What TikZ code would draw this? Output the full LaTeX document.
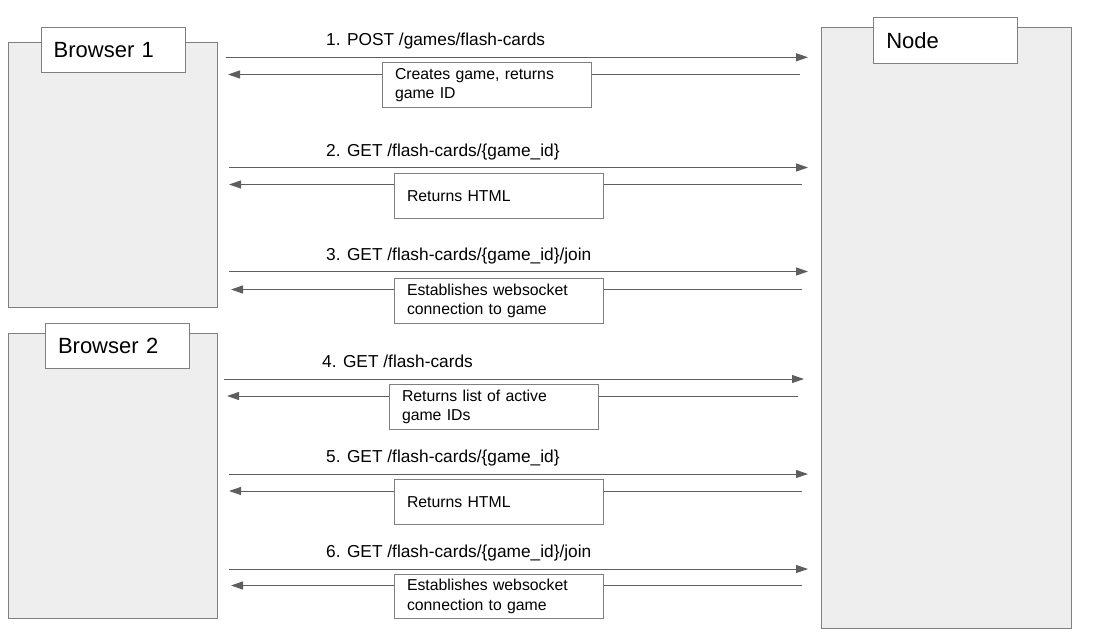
\documentclass[tikz,border=0pt]{standalone}
\usepackage{fontspec}
\setmainfont{Liberation Sans}
\usetikzlibrary{arrows.meta}
\definecolor{boxfill}{HTML}{EEEEEE}
\definecolor{edgec}{HTML}{7F7F7F}
\definecolor{arrowc}{HTML}{5E5E5E}
\tikzset{
  lane/.style={draw=edgec, fill=boxfill, line width=1pt, anchor=north west, inner sep=0pt},
  title/.style={draw=edgec, fill=white, line width=1pt, anchor=north west, minimum width=144pt, minimum height=45.5pt, text width=119pt, inner xsep=12.5pt, inner ysep=0pt, align=left, font=\fontsize{22}{26}\selectfont},
  msg/.style={draw=arrowc, line width=1pt, -{Triangle[length=12pt,width=8pt]}},
  lbl/.style={anchor=base west, inner sep=0pt, font=\fontsize{17.3}{20}\selectfont},
  note/.style={draw=edgec, fill=white, line width=1pt, anchor=north west, minimum width=209pt, minimum height=45pt, text width=184pt, inner xsep=12.5pt, inner ysep=0pt, align=left, font=\fontsize{15.8}{19.5}\selectfont},
}
\begin{document}
\begin{tikzpicture}[x=1pt,y=-1pt]
\useasboundingbox (0,0) rectangle (1105,634);
% lanes
\node[lane, minimum width=208.4pt, minimum height=265pt] (b1) at (8.3,42.3) {};
\node[lane, minimum width=208.4pt, minimum height=285.3pt] (b2) at (8.3,332.7) {};
\node[lane, minimum width=250pt, minimum height=601.3pt] (nd) at (820.7,26.7) {};
\node[title] (t1) at (40.7,26.7) {Browser 1};
\node[title] (t2) at (45,322.7) {Browser 2};
\node[title] (t3) at (873.3,17.3) {Node};
% row 1
\coordinate (f1s) at (226,57.3); \coordinate (f1e) at (808,57.3);
\coordinate (k1s) at (800,74.5); \coordinate (k1e) at (228,74.5);
\draw[msg] (f1s) -- (f1e);
\draw[msg] (k1s) -- (k1e);
\node[lbl] (l1) at (326,45.7) {1. POST /games/flash-cards};
\node[note, minimum width=208pt] (n1) at (382,62) {Creates game, returns\\game ID};
% row 2
\coordinate (f2s) at (229,167.5); \coordinate (f2e) at (808,167.5);
\coordinate (k2s) at (802,184.5); \coordinate (k2e) at (229,184.5);
\draw[msg] (f2s) -- (f2e);
\draw[msg] (k2s) -- (k2e);
\node[lbl] (l2) at (326,156) {2. GET /flash-cards/\{game\_id\}};
\node[note, minimum height=45.5pt] (n2) at (394,172.5) {Returns HTML};
% row 3
\coordinate (f3s) at (229,271.5); \coordinate (f3e) at (808,271.5);
\coordinate (k3s) at (802,289.5); \coordinate (k3e) at (231,289.5);
\draw[msg] (f3s) -- (f3e);
\draw[msg] (k3s) -- (k3e);
\node[lbl] (l3) at (326,260) {3. GET /flash-cards/\{game\_id\}/join};
\node[note] (n3) at (394,278) {Establishes websocket\\connection to game};
% row 4
\coordinate (f4s) at (224,379); \coordinate (f4e) at (804,379);
\coordinate (k4s) at (798,396); \coordinate (k4e) at (227,396);
\draw[msg] (f4s) -- (f4e);
\draw[msg] (k4s) -- (k4e);
\node[lbl] (l4) at (322,367.5) {4. GET /flash-cards};
\node[note] (n4) at (389,384) {Returns list of active\\game IDs};
% row 5
\coordinate (f5s) at (229,474); \coordinate (f5e) at (808,474);
\coordinate (k5s) at (802,491); \coordinate (k5e) at (229,491);
\draw[msg] (f5s) -- (f5e);
\draw[msg] (k5s) -- (k5e);
\node[lbl] (l5) at (326,462.5) {5. GET /flash-cards/\{game\_id\}};
\node[note, minimum height=44.5pt] (n5) at (394,479) {Returns HTML};
% row 6
\coordinate (f6s) at (229,569); \coordinate (f6e) at (808,569);
\coordinate (k6s) at (802,585.5); \coordinate (k6e) at (231,585.5);
\draw[msg] (f6s) -- (f6e);
\draw[msg] (k6s) -- (k6e);
\node[lbl] (l6) at (326,557.5) {6. GET /flash-cards/\{game\_id\}/join};
\node[note, minimum height=44.5pt] (n6) at (394,573.5) {Establishes websocket\\connection to game};
\end{tikzpicture}
\end{document}
